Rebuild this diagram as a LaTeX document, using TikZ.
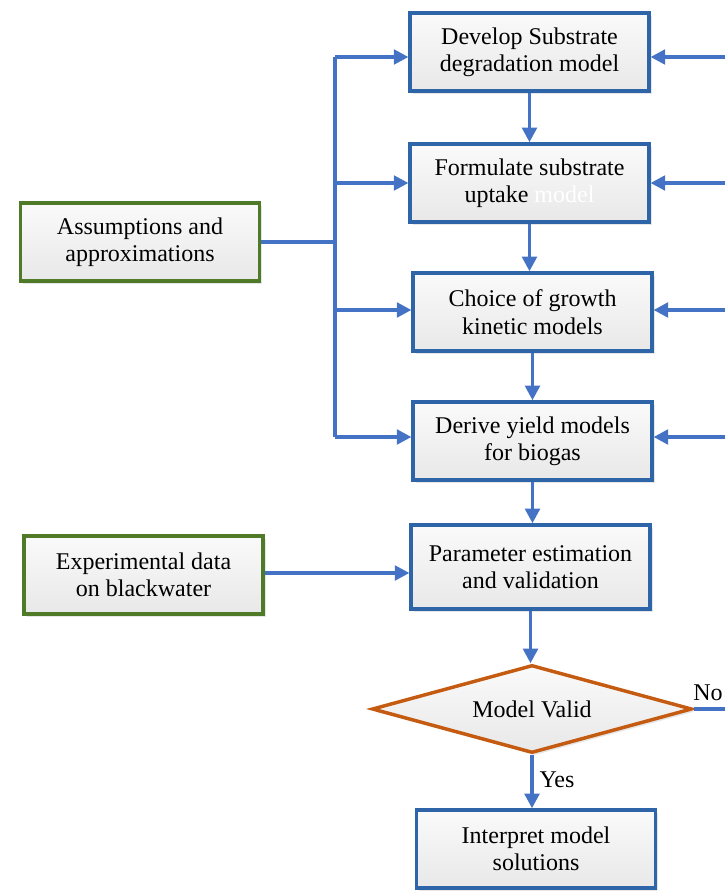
\documentclass[tikz,border=0pt]{standalone}
\usepackage{fontspec}
\setmainfont{Liberation Serif}
\usetikzlibrary{arrows.meta,shapes.geometric,shadows}
\definecolor{boxblue}{HTML}{2E64A8}
\definecolor{arrblue}{HTML}{4472C4}
\definecolor{boxgreen}{HTML}{4F7A28}
\definecolor{dmdorange}{HTML}{C55A11}
\tikzset{
  stepbox/.style={draw=boxblue, line width=2.6pt, top color=black!2, bottom color=black!9,
    minimum width=179pt, minimum height=58.5pt, align=center, inner sep=2pt,
    drop shadow={opacity=0.2, shadow xshift=2pt, shadow yshift=-2pt},
    font=\fontsize{18}{20.5}\selectfont},
  inbox/.style={stepbox, draw=boxgreen},
  check/.style={stepbox, shape=diamond, draw=dmdorange, aspect=3.6, minimum width=240pt, minimum height=66pt, inner sep=0pt},
  flow/.style={arrblue, line width=2.6pt, -{Triangle[width=11pt,length=11pt]}},
  link/.style={arrblue, line width=2.6pt},
  lbl/.style={font=\fontsize{18}{20.5}\selectfont, inner sep=0pt}
}
\begin{document}
\begin{tikzpicture}[x=0.75pt,y=-0.75pt]
	\useasboundingbox (0,0) rectangle (725,892);
	\node[stepbox] (dev) at (529.5,52) {Develop Substrate\\degradation model};
	\node[stepbox] (form) at (529.5,183) {Formulate substrate\\uptake {\color{white}model}};
	\node[stepbox] (choice) at (532.5,312) {Choice of growth\\kinetic models};
	\node[stepbox] (derive) at (532.5,441) {Derive yield models\\for biogas};
	\node[stepbox, minimum height=63pt] (param) at (530.5,567) {Parameter estimation\\and validation};
	\node[check] (valid) at (532,709) {Model Valid};
	\node[stepbox] (interp) at (536,849) {Interpret model\\solutions};
	\node[inbox] (assum) at (140,242) {Assumptions and\\approximations};
	\node[inbox] (exper) at (143.5,575) {Experimental data\\on blackwater};
	\node[lbl] (no) at (708,693) {No};
	\node[lbl] (yes) at (557,780) {Yes};
	% main chain
	\draw[flow] (dev.south) -- (dev.south |- form.north);
	\draw[flow] (form.south) -- (form.south |- choice.north);
	\draw[flow] (choice.south) -- (choice.south |- derive.north);
	\draw[flow] (derive.south) -- (derive.south |- param.north);
	\draw[flow] (param.south) -- (param.south |- valid.north);
	\draw[flow] (valid.south) -- (valid.south |- interp.north);
	% assumptions feed every model step
	\coordinate (bus) at (335,242);
	\draw[link] (assum.east) -- (bus);
	\draw[link] (335,57) -- (335,437);
	\draw[flow] (335,57) -- (dev.west |- 0,57);
	\draw[flow] (335,183) -- (form.west);
	\draw[flow] (335,310) -- (choice.west |- 0,310);
	\draw[flow] (335,437) -- (derive.west |- 0,437);
	\draw[flow] (exper.east |- 0,573) -- (param.west |- 0,573);
	% feedback from the right edge
	\coordinate (r1) at (725,57);
	\coordinate (r2) at (725,183);
	\coordinate (r3) at (725,310);
	\coordinate (r4) at (725,437);
	\coordinate (rno) at (725,709);
	\draw[flow] (r1) -- (dev.east |- r1);
	\draw[flow] (r2) -- (form.east);
	\draw[flow] (r3) -- (choice.east |- r3);
	\draw[flow] (r4) -- (derive.east |- r4);
	\draw[link] (valid.east) -- (rno);
\end{tikzpicture}
\end{document}
